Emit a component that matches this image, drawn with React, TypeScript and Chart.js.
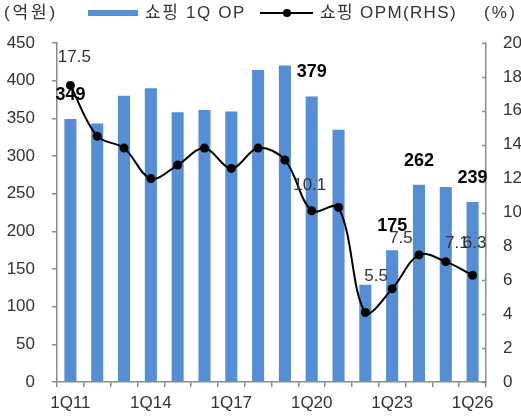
import React, { useEffect, useRef } from 'react';
import Chart from 'chart.js/auto';

const categories = ['1Q11', '1Q12', '1Q13', '1Q14', '1Q15', '1Q16', '1Q17', '1Q18', '1Q19', '1Q20', '1Q21', '1Q22', '1Q23', '1Q24', '1Q25', '1Q26'];
const opValues = [349, 343, 380, 390, 358, 361, 359, 414, 420, 379, 335, 129, 175, 262, 259, 239];
const opmValues = [17.5, 14.5, 13.8, 12.0, 12.8, 13.8, 12.6, 13.8, 13.1, 10.1, 10.3, 4.1, 5.5, 7.5, 7.1, 6.3];
const barLabelIdx = [0, 9, 12, 13, 15];
const lineLabelIdx = [0, 9, 12, 13, 14, 15];
const leftTicks = [0, 50, 100, 150, 200, 250, 300, 350, 400, 450];
const rightTicks = [0, 2, 4, 6, 8, 10, 12, 14, 16, 18, 20];
const seriesNames = ['쇼핑 1Q OP', '쇼핑 OPM(RHS)'];
const unitLeft = '(억원)';
const unitRight = '(%)';

const BAR = '#558ED5';
const AXIS = '#8c8c8c';
const TXT = '#333333';
const FONT = '"Liberation Sans", "Noto Sans CJK KR", sans-serif';

// label offsets for the line labels (pixel placement, per labelled point)
const lineLabelOffset: Record<number, [number, number]> = {
  0: [4, -28], 9: [-2, -25], 12: [-16, -12], 13: [-18, -17], 14: [11, -18], 15: [2, -32],
};

function fitText(ctx: any, text: string, x: number, y: number, width: number) {
  ctx.letterSpacing = '0px';
  const w = ctx.measureText(text).width;
  const n = Array.from(text).length;
  const ls = Math.max(0, (width - w) / n);
  ctx.letterSpacing = `${ls}px`;
  ctx.fillText(text, x, y);
  ctx.letterSpacing = '0px';
}

const extrasPlugin = {
  id: 'extras',
  afterDraw(chart: any) {
    const { ctx } = chart;
    const area = chart.chartArea;
    const y2 = chart.scales.y2;
    ctx.save();
    // right axis inward ticks
    ctx.strokeStyle = AXIS;
    ctx.lineWidth = 1.5;
    rightTicks.forEach((v) => {
      const y = Math.round(y2.getPixelForValue(v)) + 0.5;
      ctx.beginPath();
      ctx.moveTo(area.right - 4, y);
      ctx.lineTo(area.right, y);
      ctx.stroke();
    });

    // header texts & legend
    ctx.fillStyle = TXT;
    ctx.textBaseline = 'middle';
    ctx.font = `17px ${FONT}`;
    ctx.textAlign = 'left';
    fitText(ctx, unitLeft, 4, 13, 54);
    fitText(ctx, unitRight, 484, 13, 33);
    ctx.fillStyle = BAR;
    ctx.fillRect(88, 10, 50, 6);
    ctx.fillStyle = TXT;
    fitText(ctx, seriesNames[0], 145, 13, 101);
    ctx.strokeStyle = '#000';
    ctx.lineWidth = 2;
    ctx.beginPath();
    ctx.moveTo(260, 13);
    ctx.lineTo(313, 13);
    ctx.stroke();
    ctx.fillStyle = '#000';
    ctx.beginPath();
    ctx.arc(287, 13, 4, 0, Math.PI * 2);
    ctx.fill();
    ctx.fillStyle = TXT;
    fitText(ctx, seriesNames[1], 320, 13, 137);

    // data labels
    const barMeta = chart.getDatasetMeta(1);
    const lineMeta = chart.getDatasetMeta(0);
    ctx.textAlign = 'center';
    ctx.fillStyle = '#333';
    ctx.font = `17px ${FONT}`;
    lineLabelIdx.forEach((i) => {
      const p = lineMeta.data[i];
      const off = lineLabelOffset[i] || [0, -20];
      ctx.fillText(opmValues[i].toFixed(1), p.x + off[0], p.y + off[1]);
    });
    ctx.fillStyle = '#000';
    ctx.font = `bold 18px ${FONT}`;
    barLabelIdx.forEach((i) => {
      const b = barMeta.data[i];
      ctx.fillText(String(opValues[i]), b.x, b.y - 24);
    });
    ctx.restore();
  },
};

export default function App() {
  const ref = useRef<HTMLCanvasElement>(null);
  useEffect(() => {
    const chart = new Chart(ref.current!, {
      type: 'bar',
      data: {
        labels: categories,
        datasets: [
          {
            type: 'line',
            label: seriesNames[1],
            data: opmValues,
            yAxisID: 'y2',
            borderColor: '#000',
            backgroundColor: '#000',
            borderWidth: 2,
            pointRadius: 4.5,
            pointBackgroundColor: '#000',
            pointBorderWidth: 0,
            tension: 0.35,
            order: 0,
          } as any,
          {
            type: 'bar',
            label: seriesNames[0],
            data: opValues,
            yAxisID: 'y',
            backgroundColor: BAR,
            borderWidth: 0,
            categoryPercentage: 1,
            barPercentage: 0.45,
            order: 1,
          } as any,
        ],
      },
      options: {
        responsive: false,
        animation: false,
        devicePixelRatio: 1,
        layout: { padding: { top: 43, left: 0, right: 0, bottom: 0 } },
        plugins: { legend: { display: false }, tooltip: { enabled: false }, title: { display: false } },
        scales: {
          x: {
            offset: true,
            grid: { display: true, drawOnChartArea: false, offset: true, tickLength: 5, color: AXIS, lineWidth: 1.5 },
            border: { display: true, color: AXIS, width: 1.5 },
            ticks: {
              autoSkip: false,
              maxRotation: 0,
              minRotation: 0,
              padding: 6,
              color: TXT,
              font: { family: FONT, size: 17 },
              callback: (_v: any, i: number) => (i % 3 === 0 ? categories[i] : ''),
            },
            afterFit: (s: any) => { s.height = 36; },
          },
          y: {
            position: 'left',
            min: 0,
            max: 450,
            afterBuildTicks: (s: any) => { s.ticks = leftTicks.map((v) => ({ value: v })); },
            grid: { display: true, drawOnChartArea: false, tickLength: 5, color: AXIS, lineWidth: 1.5 },
            border: { display: true, color: AXIS, width: 1.5 },
            ticks: { padding: 17, color: TXT, font: { family: FONT, size: 17 } },
            afterFit: (s: any) => { s.width = 57; },
          },
          y2: {
            position: 'right',
            min: 0,
            max: 20,
            afterBuildTicks: (s: any) => { s.ticks = rightTicks.map((v) => ({ value: v })); },
            grid: { display: false, drawTicks: false },
            border: { display: true, color: AXIS, width: 1.5 },
            ticks: { padding: 17, color: TXT, font: { family: FONT, size: 17 } },
            afterFit: (s: any) => { s.width = 35; },
          },
        },
      } as any,
      plugins: [extrasPlugin],
    });
    return () => chart.destroy();
  }, []);
  return (
    <div style={{ position: 'absolute', left: 0, top: 0, width: 521, height: 418, background: '#fff' }}>
      <canvas ref={ref} width={521} height={418} style={{ display: 'block' }} />
    </div>
  );
}
